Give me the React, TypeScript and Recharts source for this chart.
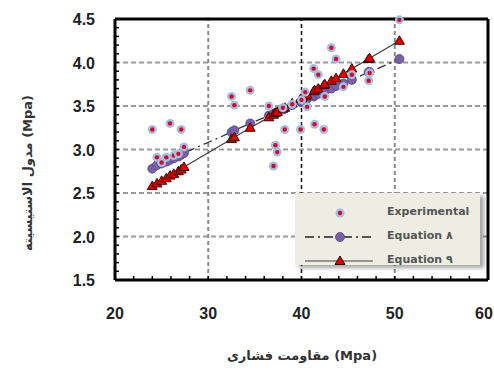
import React from 'react';
import { CartesianGrid, ReferenceLine, Scatter, ScatterChart, XAxis, YAxis } from 'recharts';

// compressive strength (Mpa) of each specimen
const strength = [24.0, 24.5, 25.0, 25.5, 25.9, 26.3, 26.8, 27.1, 27.4, 32.5, 32.8, 34.5, 36.5, 37.0, 37.2, 37.4, 38.0, 38.2, 39.0, 39.9, 40.0, 40.4, 40.6, 41.3, 41.4, 41.8, 42.4, 42.5, 43.2, 43.7, 44.5, 45.4, 47.2, 47.3, 50.5];
const experimental = [3.23, 2.91, 2.85, 2.91, 3.30, 2.93, 2.95, 3.23, 3.03, 3.61, 3.51, 3.68, 3.50, 2.81, 3.05, 2.97, 3.48, 3.23, 3.52, 3.23, 3.57, 3.66, 3.49, 3.93, 3.29, 3.86, 3.23, 3.61, 4.17, 4.04, 3.72, 3.86, 3.79, 3.88, 4.49];
const equation8 = [2.78, 2.82, 2.84, 2.86, 2.88, 2.90, 2.92, 2.94, 2.96, 3.20, 3.22, 3.30, 3.39, 3.41, 3.42, 3.43, 3.46, 3.47, 3.51, 3.55, 3.55, 3.57, 3.58, 3.61, 3.62, 3.64, 3.67, 3.67, 3.70, 3.73, 3.76, 3.80, 3.89, 3.89, 4.04];
const equation9 = [2.58, 2.61, 2.64, 2.67, 2.70, 2.72, 2.75, 2.77, 2.80, 3.12, 3.14, 3.25, 3.37, 3.40, 3.42, 3.43, 3.47, 3.48, 3.53, 3.58, 3.59, 3.61, 3.63, 3.67, 3.68, 3.70, 3.74, 3.75, 3.79, 3.82, 3.87, 3.93, 4.04, 4.05, 4.25];

const xMajor = [20, 30, 40, 50, 60];
const yMajor = [1.5, 2.0, 2.5, 3.0, 3.5, 4.0, 4.5];
const xTicks = Array.from({ length: 21 }, (_, i) => 20 + i * 2);
const yTicks = Array.from({ length: 31 }, (_, i) => Math.round((1.5 + i * 0.1) * 10) / 10);

const legendItems = ['Experimental', 'Equation ۸', 'Equation ۹'];

const PLOT_LEFT = 115;
const PLOT_BOTTOM = 280;
const tickFont = '"Liberation Sans", Arial, sans-serif';

const expData = strength.map((x, i) => ({ x, y: experimental[i] }));
const eq8Data = strength.map((x, i) => ({ x, y: equation8[i] }));
const eq9Data = strength.map((x, i) => ({ x, y: equation9[i] }));

const ExpDot = ({ cx, cy }: any) => (
  <g>
    <circle cx={cx} cy={cy} r={4.5} fill="#a9bde0" />
    <circle cx={cx} cy={cy} r={2.2} fill="#c8102e" />
  </g>
);

const PurpleDot = ({ cx, cy }: any) => (
  <circle cx={cx} cy={cy} r={4.5} fill="#7b60a8" stroke="#55457a" strokeWidth={0.8} />
);

const RedTriangle = ({ cx, cy }: any) => (
  <polygon points={`${cx},${cy - 5} ${cx - 5},${cy + 3.5} ${cx + 5},${cy + 3.5}`} fill="#e00000" stroke="#400000" strokeWidth={1} />
);

const XTick = ({ x, payload }: any) => {
  const major = xMajor.includes(payload.value);
  // last label sits on the window edge, nudge it in a little
  const shift = payload.value === 60 ? -4 : 0;
  return (
    <g>
      <line x1={x} x2={x} y1={PLOT_BOTTOM} y2={PLOT_BOTTOM - 4} stroke="#000" strokeWidth={1.5} />
      {major && (
        <text x={x + shift} y={PLOT_BOTTOM + 39} textAnchor="middle" fontSize={16} fontWeight="bold" fill="#222" fontFamily={tickFont}>
          {payload.value}
        </text>
      )}
    </g>
  );
};

const YTick = ({ y, payload }: any) => {
  const major = yMajor.includes(payload.value);
  return (
    <g>
      <line x1={PLOT_LEFT} x2={PLOT_LEFT + 4} y1={y} y2={y} stroke="#000" strokeWidth={1.5} />
      {major && (
        <text x={95} y={y + 6} textAnchor="end" fontSize={16} fontWeight="bold" fill="#222" fontFamily={tickFont}>
          {payload.value.toFixed(1)}
        </text>
      )}
    </g>
  );
};

function LegendBox() {
  const row = (i: number) => ({ position: 'absolute' as const, left: 0, top: 10 + i * 24, width: 185, height: 20 });
  return (
    <div style={{ position: 'absolute', left: 295, top: 193, width: 185, height: 72, background: '#eeede3', boxShadow: '4px 3px 4px rgba(0,0,0,0.35)' }}>
      {legendItems.map((label, i) => (
        <div key={label} style={row(i)}>
          <svg width={90} height={20} style={{ position: 'absolute', left: 8, top: 0 }}>
            {i === 1 && <line x1={2} x2={70} y1={10} y2={10} stroke="#222" strokeWidth={1.5} strokeDasharray="9 4 2 4" />}
            {i === 2 && <line x1={2} x2={70} y1={10} y2={10} stroke="#777" strokeWidth={1.5} />}
            {i === 0 && <ExpDot cx={37} cy={10} />}
            {i === 1 && <PurpleDot cx={37} cy={10} />}
            {i === 2 && <RedTriangle cx={37} cy={10} />}
          </svg>
          <span style={{ position: 'absolute', left: 92, top: 2, fontFamily: '"DejaVu Sans", sans-serif', fontSize: 11, fontWeight: 'bold', color: '#555', whiteSpace: 'nowrap' }}>
            {label}
          </span>
        </div>
      ))}
    </div>
  );
}

export default function App() {
  return (
    <div style={{ position: 'absolute', left: 0, top: 0, width: 494, height: 371, background: '#fff' }}>
      <ScatterChart width={494} height={371} margin={{ top: 19, right: 6, left: 0, bottom: 0 }}>
        <CartesianGrid vertical={false} stroke="#9a9a9a" strokeWidth={2} strokeDasharray="5 3" horizontalValues={[2.0, 2.5, 3.0, 3.5, 4.0]} />
        <ReferenceLine x={30} stroke="#8a8a8a" strokeWidth={2} strokeDasharray="4 3" />
        <ReferenceLine x={40} stroke="#111" strokeWidth={1.5} strokeDasharray="4 3" />
        <ReferenceLine x={50} stroke="#8a8a8a" strokeWidth={2} strokeDasharray="4 3" />
        <ReferenceLine y={4.5} stroke="#000" strokeWidth={3} />
        <ReferenceLine x={60} stroke="#000" strokeWidth={3} />
        <XAxis type="number" dataKey="x" domain={[20, 60]} ticks={xTicks} interval={0} tick={<XTick />} tickLine={false} axisLine={{ stroke: '#000', strokeWidth: 3 }} height={91} />
        <YAxis type="number" dataKey="y" domain={[1.5, 4.5]} ticks={yTicks} interval={0} tick={<YTick />} tickLine={false} axisLine={{ stroke: '#000', strokeWidth: 3 }} width={115} />
        <Scatter data={eq8Data} isAnimationActive={false} shape={<PurpleDot />} line={{ stroke: '#333', strokeWidth: 1.3, strokeDasharray: '9 4 2 4' }} lineType="joint" />
        <Scatter data={eq9Data} isAnimationActive={false} shape={<RedTriangle />} line={{ stroke: '#444', strokeWidth: 1.3 }} lineType="joint" />
        <Scatter data={expData} isAnimationActive={false} shape={<ExpDot />} />
      </ScatterChart>
      <div style={{ position: 'absolute', left: 27, top: 173, transform: 'translate(-50%, -50%) rotate(-90deg)', whiteSpace: 'nowrap', fontFamily: '"DejaVu Sans", sans-serif', fontSize: 13, fontWeight: 'bold', color: '#333' }}>
        مدول الاستیسیته (Mpa)
      </div>
      <div style={{ position: 'absolute', left: 302, top: 355, transform: 'translate(-50%, -50%)', whiteSpace: 'nowrap', fontFamily: '"DejaVu Sans", sans-serif', fontSize: 13, fontWeight: 'bold', color: '#333' }}>
        مقاومت فشاری (Mpa)
      </div>
      <LegendBox />
    </div>
  );
}
